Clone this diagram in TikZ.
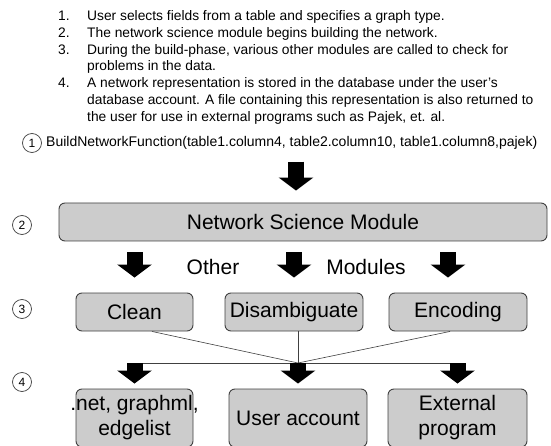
\documentclass[tikz,border=0pt]{standalone}
\usepackage{fontspec}
\setmainfont{Liberation Sans}
\usetikzlibrary{arrows.meta}

\definecolor{boxfill}{RGB}{204,204,204}
\definecolor{boxline}{RGB}{64,64,64}

\tikzset{
  modbox/.style={draw=boxline, fill=boxfill, rounded corners=6pt, line width=0.9pt,
    inner sep=0pt, align=center, font=\fontsize{21}{25}\selectfont},
  stepnum/.style={circle, draw=boxline, fill=white, line width=0.7pt, inner sep=0pt,
    minimum size=19pt, font=\fontsize{12}{12}\selectfont},
  bigarrow/.style={line width=16pt, -{Triangle[width=34pt,length=13pt]}},
  link/.style={draw=boxline, line width=0.6pt}
}

\begin{document}
\begin{tikzpicture}[x=1pt,y=-1pt]
  \useasboundingbox (0,0) rectangle (551,446);
  % steps listed at the top
  \node[anchor=north west, inner sep=0pt, font=\fontsize{13.8}{16.8}\selectfont] (steps) at (58,8.5)
    {\begin{tabular}{@{}p{29pt}@{}l@{}}
      1. & User selects fields from a table and specifies a graph type.\\
      2. & The network science module begins building the network.\\
      3. & During the build-phase, various other modules are called to check for\\
         & problems in the data.\\
      4. & A network representation is stored in the database under the user’s\\
         & database account. A file containing this representation is also returned to\\
         & the user for use in external programs such as Pajek, et. al.
    \end{tabular}};

  % step 1
  \node[stepnum] (s1) at (32,143) {1};
  \node[anchor=west, inner sep=0pt, font=\fontsize{14}{16}\selectfont] (call) at (46,143)
    {BuildNetworkFunction(table1.column4, table2.column10, table1.column8,pajek)};

  % step 2
  \node[stepnum] (s2) at (22,225) {2};
  \node[modbox, minimum width=488pt, minimum height=38pt] (nsm) at (303,222) {Network Science Module};
  \coordinate (mid) at (296,0);
  \draw[bigarrow, shorten <=12pt, shorten >=12pt] (call.south -| mid) -- (nsm.north -| mid);

  % step 3
  \node[stepnum] (s3) at (22,309) {3};
  \node[modbox, minimum width=117pt, minimum height=38pt] (clean) at (134.5,312) {Clean};
  \node[modbox, minimum width=138pt, minimum height=38pt] (disamb) at (294,312) {Disambiguate};
  \node[modbox, minimum width=138pt, minimum height=38pt] (enc) at (458,312) {Encoding};
  \node[font=\fontsize{21}{25}\selectfont, inner sep=0pt] (other) at (213,267) {Other};
  \node[font=\fontsize{21}{25}\selectfont, inner sep=0pt] (mods) at (366,267) {Modules};
  \draw[bigarrow, shorten <=11pt, shorten >=15pt] (nsm.south -| clean.north) -- (clean.north);
  \draw[bigarrow, shorten <=11pt, shorten >=15pt] (nsm.south -| disamb.north) -- (disamb.north);
  \draw[bigarrow, shorten <=11pt, shorten >=15pt] ([xshift=-10pt]nsm.south -| enc.north) -- ([xshift=-10pt]enc.north);

  % step 4
  \node[stepnum] (s4) at (22,382) {4};
  \node[modbox, minimum width=117pt, minimum height=58pt] (net) at (134.5,418) {\makebox[0pt]{.net, graphml,}\\edgelist};
  \node[modbox, minimum width=138pt, minimum height=58pt] (user) at (298,418) {User account};
  \node[modbox, minimum width=139pt, minimum height=58pt] (ext) at (457.5,418) {External\\program};
  \coordinate (hub) at (298,363);
  \draw[link] ([xshift=17.5pt]clean.south) -- (hub);
  \draw[link] (disamb.south -| hub) -- (hub);
  \draw[link] ([xshift=-8pt]enc.south) -- (hub);
  \draw[link] (hub -| net.north) -- (hub -| ext.north);
  \draw[bigarrow, shorten >=5pt] (hub -| net.north) -- (net.north);
  \draw[bigarrow, shorten >=5pt] (hub -| user.north) -- (user.north);
  \draw[bigarrow, shorten >=5pt] (hub -| ext.north) -- (ext.north);
\end{tikzpicture}
\end{document}
